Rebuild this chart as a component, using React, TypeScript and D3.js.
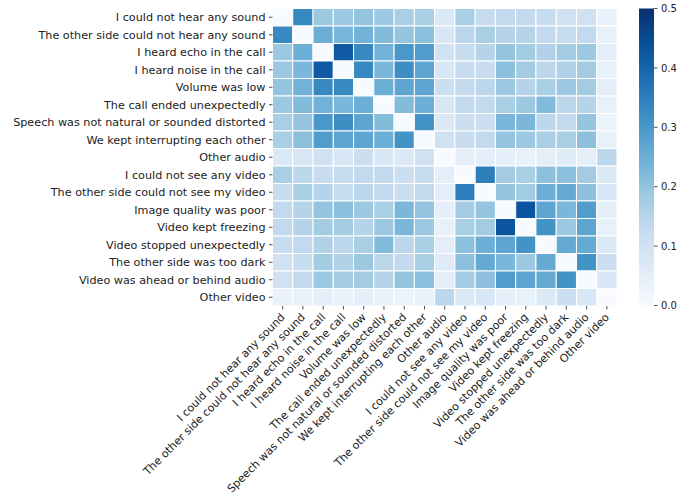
import React, { useRef, useEffect } from 'react';
import * as d3 from 'd3';

const labels: string[] = [
  'I could not hear any sound',
  'The other side could not hear any sound',
  'I heard echo in the call',
  'I heard noise in the call',
  'Volume was low',
  'The call ended unexpectedly',
  'Speech was not natural or sounded distorted',
  'We kept interrupting each other',
  'Other audio',
  'I could not see any video',
  'The other side could not see my video',
  'Image quality was poor',
  'Video kept freezing',
  'Video stopped unexpectedly',
  'The other side was too dark',
  'Video was ahead or behind audio',
  'Other video',
];

// co-occurrence values, row by row (diagonal is 0)
const matrix: number[][] = [
  [0, 0.33, 0.19, 0.19, 0.2, 0.19, 0.17, 0.17, 0.07, 0.17, 0.12, 0.13, 0.13, 0.12, 0.1, 0.1, 0.035],
  [0.33, 0, 0.25, 0.23, 0.24, 0.22, 0.2, 0.21, 0.08, 0.14, 0.17, 0.15, 0.15, 0.13, 0.12, 0.13, 0.04],
  [0.19, 0.25, 0, 0.42, 0.33, 0.24, 0.3, 0.29, 0.1, 0.12, 0.15, 0.2, 0.18, 0.16, 0.18, 0.19, 0.05],
  [0.19, 0.23, 0.42, 0, 0.33, 0.23, 0.32, 0.27, 0.08, 0.12, 0.12, 0.21, 0.18, 0.14, 0.16, 0.18, 0.04],
  [0.2, 0.24, 0.33, 0.33, 0, 0.25, 0.27, 0.27, 0.11, 0.13, 0.14, 0.19, 0.15, 0.17, 0.19, 0.18, 0.05],
  [0.19, 0.22, 0.24, 0.23, 0.25, 0, 0.22, 0.25, 0.08, 0.13, 0.13, 0.17, 0.19, 0.22, 0.14, 0.15, 0.04],
  [0.17, 0.2, 0.3, 0.32, 0.27, 0.22, 0, 0.31, 0.07, 0.11, 0.11, 0.23, 0.23, 0.14, 0.13, 0.2, 0.03],
  [0.17, 0.21, 0.29, 0.27, 0.27, 0.25, 0.31, 0, 0.1, 0.12, 0.13, 0.2, 0.19, 0.17, 0.17, 0.21, 0.04],
  [0.07, 0.08, 0.1, 0.08, 0.11, 0.08, 0.07, 0.1, 0, 0.05, 0.05, 0.045, 0.04, 0.05, 0.06, 0.05, 0.14],
  [0.17, 0.14, 0.12, 0.12, 0.13, 0.13, 0.11, 0.12, 0.05, 0, 0.35, 0.18, 0.17, 0.21, 0.21, 0.18, 0.07],
  [0.12, 0.17, 0.15, 0.12, 0.14, 0.13, 0.11, 0.13, 0.05, 0.35, 0, 0.2, 0.18, 0.25, 0.26, 0.21, 0.08],
  [0.13, 0.15, 0.2, 0.21, 0.19, 0.17, 0.23, 0.2, 0.045, 0.18, 0.2, 0, 0.43, 0.27, 0.23, 0.29, 0.045],
  [0.13, 0.15, 0.18, 0.18, 0.15, 0.19, 0.23, 0.19, 0.04, 0.17, 0.18, 0.43, 0, 0.31, 0.19, 0.27, 0.04],
  [0.12, 0.13, 0.16, 0.14, 0.17, 0.22, 0.14, 0.17, 0.05, 0.21, 0.25, 0.27, 0.31, 0, 0.26, 0.26, 0.07],
  [0.1, 0.12, 0.18, 0.16, 0.19, 0.14, 0.13, 0.17, 0.06, 0.21, 0.26, 0.23, 0.19, 0.26, 0, 0.31, 0.11],
  [0.1, 0.13, 0.19, 0.18, 0.18, 0.15, 0.2, 0.21, 0.05, 0.18, 0.21, 0.29, 0.27, 0.26, 0.31, 0, 0.08],
  [0.035, 0.04, 0.05, 0.04, 0.05, 0.04, 0.03, 0.04, 0.14, 0.07, 0.08, 0.045, 0.04, 0.07, 0.11, 0.08, 0],
];

const colorbarTicks = [0, 0.1, 0.2, 0.3, 0.4, 0.5];

// matplotlib "Blues" control colours
const BLUES = ['#f7fbff', '#deebf7', '#c6dbef', '#9ecae1', '#6baed6', '#4292c6', '#2171b5', '#08519c', '#08306b'];

const W = 698;
const H = 499;
const FONT = '"DejaVu Sans", sans-serif';
const FS = 11.2;
const FS_COL = 11;

export default function App() {
  const svgRef = useRef<SVGSVGElement | null>(null);

  useEffect(() => {
    const svg = d3.select(svgRef.current);
    svg.selectAll('*').remove();

    const plot = { left: 272.5, right: 617, top: 8.5, bottom: 306 };
    const vmax = 0.5;
    const color = d3
      .scaleLinear<string>()
      .domain(BLUES.map((_, i) => (i / (BLUES.length - 1)) * vmax))
      .range(BLUES)
      .interpolate(d3.interpolateRgb)
      .clamp(true);

    const x = d3.scaleBand<number>().domain(d3.range(labels.length)).range([plot.left, plot.right]);
    const y = d3.scaleBand<number>().domain(d3.range(labels.length)).range([plot.top, plot.bottom]);

    const cells = matrix.flatMap((row, r) => row.map((v, c) => ({ r, c, v })));
    svg
      .append('g')
      .selectAll('rect')
      .data(cells)
      .join('rect')
      .attr('x', (d) => x(d.c)!)
      .attr('y', (d) => y(d.r)!)
      .attr('width', x.bandwidth())
      .attr('height', y.bandwidth())
      .attr('fill', (d) => color(d.v))
      .attr('stroke', 'white')
      .attr('stroke-width', 1);

    // row labels
    const rowAxis = svg.append('g');
    labels.forEach((lab, i) => {
      const cy = y(i)! + y.bandwidth() / 2;
      rowAxis
        .append('line')
        .attr('x1', plot.left - 3.5)
        .attr('x2', plot.left)
        .attr('y1', cy)
        .attr('y2', cy)
        .attr('stroke', '#222')
        .attr('stroke-width', 0.8);
      rowAxis
        .append('text')
        .attr('x', plot.left - 7)
        .attr('y', cy)
        .attr('dy', '0.36em')
        .attr('text-anchor', 'end')
        .attr('font-family', FONT)
        .attr('font-size', FS)
        .attr('fill', '#222')
        .text(lab);
    });

    // column labels, rotated
    const colAxis = svg.append('g');
    labels.forEach((lab, i) => {
      const cx = x(i)! + x.bandwidth() / 2;
      colAxis
        .append('line')
        .attr('x1', cx)
        .attr('x2', cx)
        .attr('y1', plot.bottom)
        .attr('y2', plot.bottom + 3.5)
        .attr('stroke', '#222')
        .attr('stroke-width', 0.8);
      colAxis
        .append('text')
        .attr('transform', `translate(${cx - 1},${plot.bottom + 8}) rotate(-45)`)
        .attr('dy', '0.5em')
        .attr('text-anchor', 'end')
        .attr('font-family', FONT)
        .attr('font-size', FS_COL)
        .attr('fill', '#222')
        .text(lab);
    });

    // colorbar
    const cb = { x: 639, w: 15, top: 8.5, bottom: 305.5 };
    const grad = svg
      .append('defs')
      .append('linearGradient')
      .attr('id', 'cbgrad')
      .attr('x1', 0)
      .attr('y1', 1)
      .attr('x2', 0)
      .attr('y2', 0);
    d3.range(0, 1.0001, 0.02).forEach((t) => {
      grad
        .append('stop')
        .attr('offset', t)
        .attr('stop-color', color(t * vmax));
    });
    svg
      .append('rect')
      .attr('x', cb.x)
      .attr('y', cb.top)
      .attr('width', cb.w)
      .attr('height', cb.bottom - cb.top)
      .attr('fill', 'url(#cbgrad)');

    const cy = d3.scaleLinear().domain([0, vmax]).range([cb.bottom, cb.top]);
    const cbAxis = svg.append('g');
    colorbarTicks.forEach((t) => {
      cbAxis
        .append('line')
        .attr('x1', cb.x + cb.w)
        .attr('x2', cb.x + cb.w + 3.5)
        .attr('y1', cy(t))
        .attr('y2', cy(t))
        .attr('stroke', '#222')
        .attr('stroke-width', 0.8);
      cbAxis
        .append('text')
        .attr('x', cb.x + cb.w + 7)
        .attr('y', cy(t))
        .attr('dy', '0.36em')
        .attr('font-family', FONT)
        .attr('font-size', 10)
        .attr('fill', '#222')
        .text(d3.format('.1f')(t));
    });
  }, []);

  return (
    <svg
      ref={svgRef}
      width={W}
      height={H}
      style={{ position: 'absolute', left: 0, top: 0, background: 'white' }}
    />
  );
}
